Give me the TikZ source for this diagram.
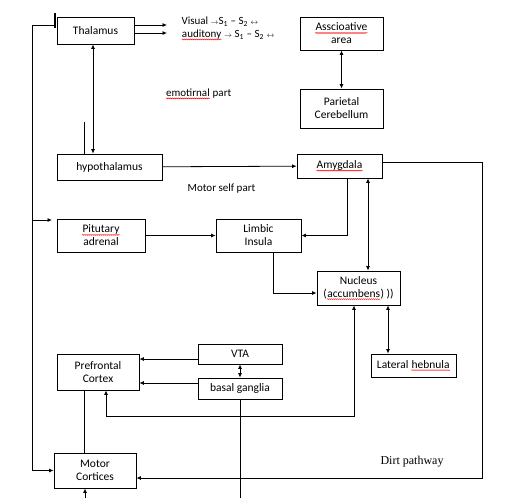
\documentclass[tikz,border=0pt]{standalone}
\usepackage{fontspec}
\setmainfont{Carlito}
\newfontfamily\dirtfont{Liberation Serif}
\usetikzlibrary{arrows.meta,positioning,calc,decorations.pathmorphing}
\newcommand\redwave[1]{\tikz[baseline=(w.base), x=1cm, y=1cm]{%
  \node[draw=none, fill=none, inner sep=0pt, minimum width=0pt, minimum height=0pt] (w) {#1};
  \draw[red, line width=0.5pt, decorate, decoration={snake, amplitude=0.5pt, segment length=2pt}]
    ([yshift=-2pt]w.base west) -- ([yshift=-2pt]w.base east);}}
\newcommand\sarr[1]{{\fontsize{7.5}{8}\selectfont$#1$}}

\begin{document}
\begin{tikzpicture}[
  x=1pt, y=-1pt,
  font=\fontsize{11.5}{13}\selectfont,
  box/.style={draw, line width=0.8pt, align=center, inner sep=0pt},
  arr/.style={-{Latex[length=4.5pt,width=4pt]}, line width=0.8pt},
  dbl/.style={{Latex[length=4.5pt,width=4pt]}-{Latex[length=4.5pt,width=4pt]}, line width=0.8pt},
  lnk/.style={line width=0.8pt},
  lbl/.style={font=\fontsize{11}{12}\selectfont}
]
\useasboundingbox (0,0) rectangle (511,498);

\node[box, minimum width=77pt, minimum height=27pt] (thal)   at (95.5,30.5)  {Thalamus};
\node[box, minimum width=83pt, minimum height=33pt] (assoc)  at (341.5,33.5) {\redwave{Asscioative}\\area};
\node[box, minimum width=83pt, minimum height=39pt] (pariet) at (341.5,108.5) {Parietal\\Cerebellum};
\node[box, minimum width=105pt, minimum height=26pt] (hypo)  at (109.5,167)  {hypothalamus};
\node[box, minimum width=85pt, minimum height=24pt] (amyg)   at (339.5,166)  {\redwave{Amygdala}};
\node[box, minimum width=88pt, minimum height=33pt] (pit)    at (101,235.5)  {\redwave{Pitutary}\\adrenal};
\node[box, minimum width=85pt, minimum height=33pt] (limb)   at (258.5,235.5) {Limbic\\Insula};
\node[box, minimum width=83pt, minimum height=34pt] (nucl)   at (358.5,288)  {Nucleus\\(\redwave{accumbens}) ))};
\node[box, minimum width=85pt, minimum height=23pt] (lat)    at (413.5,365.5) {Lateral \redwave{hebnula}};
\node[box, minimum width=82pt, minimum height=36pt] (pref)   at (98,372)     {Prefrontal\\Cortex};
\node[box, minimum width=84pt, minimum height=20pt] (vta)    at (240,354)    {VTA};
\node[box, minimum width=84pt, minimum height=21pt] (basal)  at (240,388.5)  {basal ganglia};
\node[box, minimum width=82pt, minimum height=35pt] (motor)  at (95,470.5)   {Motor\\Cortices};

% free labels
\node[lbl, anchor=west] (vis) at (178,22) {Visual \sarr{\rightarrow}S\textsubscript{1} -- S\textsubscript{2} \sarr{\leftrightarrow}};
\node[lbl, anchor=west] (aud) at (178,35) {\redwave{auditony} \sarr{\rightarrow} S\textsubscript{1} -- S\textsubscript{2} \sarr{\leftrightarrow}};
\node[lbl] (emo) at (198.5,94) {\redwave{emotirnal} part};
\node[lbl] (mself) at (221.5,189) {Motor self part};
\node[font=\dirtfont\fontsize{12}{14}\selectfont] (dirt) at (412,462) {Dirt pathway};

\coordinate (tk)  at (55,25);
\coordinate (lft) at (32,25);
\coordinate (pa)  at (52,220);
\coordinate (v1)  at (167,25);
\coordinate (v2)  at (167,33);
\coordinate (h0)  at (84,122);
\coordinate (rt)  at (482,162);
\coordinate (bt)  at (354,416);
\coordinate (bb)  at (240,498);
\coordinate (mb)  at (85,498);

% thalamus outputs and left loop
\draw[line width=1.6pt] ([yshift=12pt]tk) -- ([yshift=-3pt]tk);
\draw[arr] (tk) -- (lft) |- (motor.west);
\draw[arr] (lft |- pa) -- (pa);
\draw[arr] (thal.east |- v1) -- (v1);
\draw[arr] (thal.east |- v2) -- (v2);
\draw[dbl] ([xshift=-2.5pt]thal.south) -- ([xshift=-2.5pt]thal.south |- hypo.north);
\draw[lnk] (h0) -- (h0 |- hypo.north);
\draw[dbl] (assoc) -- (pariet);

% amygdala paths
\draw[arr] (hypo) -- (amyg);
\draw[arr] (amyg.east |- rt) -- (rt) |- ([yshift=-7.5pt]motor.east);
\draw[arr] ([xshift=7.5pt]amyg.south) |- (limb.east);
\draw[dbl] ([xshift=28.5pt]amyg.south) -- ([xshift=28.5pt]amyg.south |- nucl.north);

\draw[arr] (pit) -- (limb);
\draw[arr] ([xshift=14.5pt]limb.south) |- ([yshift=-5pt]nucl.west);
\draw[dbl] ([xshift=29.5pt]nucl.south) -- ([xshift=29.5pt]nucl.south |- lat.north);
\draw[dbl] ([xshift=8pt]pref.south) |- (bt) -- (bt |- nucl.south);

% VTA and basal ganglia
\draw[arr] ([yshift=-5pt]vta.west) -- ([yshift=-5pt]vta.west -| pref.east);
\draw[arr] ([yshift=5.5pt]basal.west) -- ([yshift=5.5pt]basal.west -| pref.east);
\draw[dbl] (vta) -- (basal);
\draw[lnk] (basal) -- (bb);

\draw[lnk] ([xshift=-14pt]pref.south) -- ([xshift=-14pt]pref.south |- motor.north);
\draw[arr] (mb) -- (mb |- motor.south);

\end{tikzpicture}
\end{document}
